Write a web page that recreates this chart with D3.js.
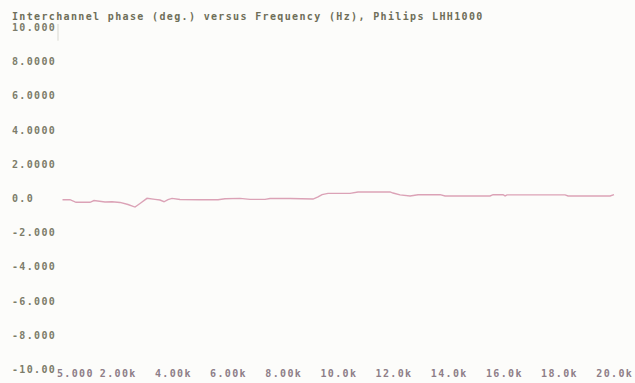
<!DOCTYPE html>
<html><head><meta charset="utf-8">
<script src="https://cdn.jsdelivr.net/npm/d3@7"></script>
<style>
html,body{margin:0;padding:0;background:#fcfcfa;}
svg{display:block;}
text{font-family:"DejaVu Sans Mono",monospace;font-weight:bold;font-size:10px;letter-spacing:1.35px;}
</style></head><body>
<svg id="c" width="635" height="383"></svg>
<script>
const title = "Interchannel phase (deg.) versus Frequency (Hz), Philips LHH1000";
const yTickValues = [10, 8, 6, 4, 2, 0, -2, -4, -6, -8, -10];
const yTickLabels = ["10.000","8.0000","6.0000","4.0000","2.0000","0.0","-2.000","-4.000","-6.000","-8.000","-10.00"];
const xTickValues = [5, 2000, 4000, 6000, 8000, 10000, 12000, 14000, 16000, 18000, 20000];
const xTickLabels = ["5.000","2.00k","4.00k","6.00k","8.00k","10.0k","12.0k","14.0k","16.0k","18.0k","20.0k"];
const freqHz = [5,277,495,1002,1147,1546,1800,2090,2380,2634,2815,3069,3359,3540,3685,3830,3975,4265,4990,5643,5897,6441,6804,7348,7529,8255,9089,9270,9415,9633,10430,10720,11880,11990,12243,12606,12896,13694,13875,15507,15616,15978,16051,16123,18226,18335,19858,20000];
const phaseDeg = [-0.1,-0.1,-0.25,-0.25,-0.15,-0.23,-0.22,-0.26,-0.38,-0.53,-0.32,-0.02,-0.08,-0.12,-0.22,-0.09,-0.02,-0.09,-0.1,-0.1,-0.04,-0.02,-0.08,-0.08,-0.03,-0.03,-0.06,0.06,0.2,0.27,0.27,0.35,0.36,0.29,0.18,0.12,0.19,0.2,0.12,0.12,0.2,0.19,0.12,0.18,0.18,0.12,0.12,0.2];

const svg = d3.select("#c");
const x = d3.scaleLinear().domain([5, 20000]).range([62.5, 614]);
const y = d3.scaleLinear().domain([-10, 10]).range([369, 27]);

svg.append("rect").attr("width",635).attr("height",383).attr("fill","#fcfcfa");

svg.append("text").attr("x",12).attr("y",20).attr("fill","#6e6e58").text(title);

// faint axis remnant
svg.append("line").attr("x1",58).attr("x2",58).attr("y1",y(10)-3).attr("y2",y(9.2))
  .attr("stroke","#d8d8d0").attr("stroke-width",1);

svg.selectAll(".yl").data(yTickValues).enter().append("text")
  .attr("x",12).attr("y",d=>y(d)+4).attr("fill","#7c7c6a")
  .text((d,i)=>yTickLabels[i]);

svg.selectAll(".xl").data(xTickValues).enter().append("text")
  .attr("x",(d,i)=> i===0 ? 57 : x(d)+0.7)
  .attr("text-anchor",(d,i)=> i===0 ? "start" : "middle")
  .attr("y",377).attr("fill","#8e7e88")
  .text((d,i)=>xTickLabels[i]);

const pts = freqHz.map((f,i)=>[f, phaseDeg[i]]);
const line = d3.line().x(d=>x(d[0])).y(d=>y(d[1]));
svg.append("path").datum(pts).attr("d",line)
  .attr("fill","none").attr("stroke","#dba2b6").attr("stroke-width",1.4);
</script>
</body></html>
